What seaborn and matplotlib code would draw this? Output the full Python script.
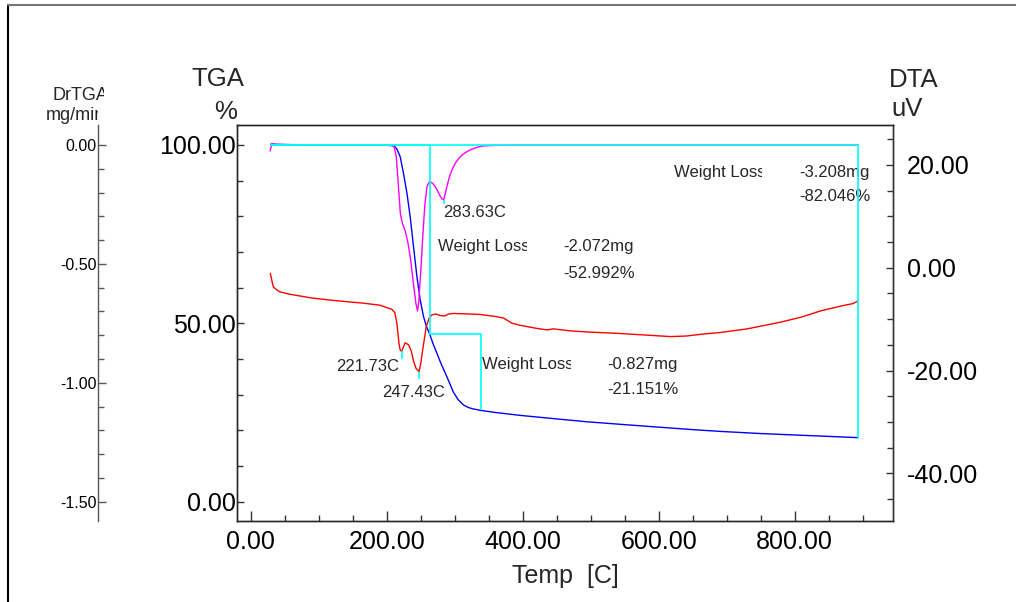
import numpy as np
import pandas as pd
import matplotlib
matplotlib.use("Agg")
import matplotlib.pyplot as plt
from matplotlib.lines import Line2D
from matplotlib.ticker import MultipleLocator, FormatStrFormatter
from matplotlib.transforms import Bbox
import seaborn as sns

# ---------------- data ----------------
# TGA (weight %, left axis)
tga_temp = [29, 60, 100, 150, 200, 208, 212, 215, 219.7, 224.6, 229.6, 234.4, 239.3,
            244.3, 249.2, 254, 258, 263, 268, 273.7, 280, 288.4, 298.2, 305, 312.9,
            320, 327, 333, 338, 360, 396, 450, 494.5, 550, 592.5, 650, 690.7, 750,
            800, 850, 893]
tga_pct = [100.2, 100.1, 100.0, 100.0, 99.9, 99.8, 99.5, 98.8, 96.7, 92.0, 86.5, 79.9, 71.5,
           63.1, 56.5, 51.9, 49.3, 47.0, 44.3, 41.6, 38.6, 35.0, 30.6, 28.6, 27.1,
           26.4, 26.0, 25.8, 25.6, 25.0, 24.2, 23.2, 22.4, 21.6, 21.0, 20.2, 19.7, 19.1,
           18.7, 18.3, 17.95]

# DrTGA (mg/min, far-left axis)
dr_temp = [28.5, 29.5, 31, 35, 60, 100, 150, 200, 208, 211, 214, 217, 220, 223, 227,
           231, 235, 239, 243, 245.2, 247, 250, 253, 256, 259, 262.8, 267, 271.2,
           275, 278.6, 281, 283.63, 286, 288.4, 292, 295.8, 301, 308, 315, 322.4,
           332, 341.9, 360, 400, 500, 600, 700, 800, 893]
dr_val = [-0.025, -0.012, 0.006, 0.003, 0.0, 0.0, 0.0, 0.0, -0.002, -0.008, -0.05, -0.17,
          -0.29, -0.33, -0.36, -0.41, -0.48, -0.58, -0.67, -0.698, -0.66, -0.53, -0.38,
          -0.25, -0.175, -0.154, -0.16, -0.175, -0.195, -0.215, -0.226, -0.23, -0.205,
          -0.175, -0.135, -0.105, -0.075, -0.049, -0.033, -0.021, -0.01, -0.004, -0.001,
          0.0, 0.0, 0.0, 0.0, 0.0, 0.0]

# DTA (uV, right axis)
dta_temp = [28.7, 31, 33, 38, 43, 55, 67.7, 90, 116.7, 140, 165.7, 190, 207.4, 212,
            215, 218, 219.7, 221.73, 224, 227, 232, 236, 239, 243, 247.43, 250, 253,
            258, 262, 266, 272, 278.6, 285, 291, 298, 320, 337.5, 360, 371.7, 384, 396,
            420, 435.6, 445, 470, 494, 543, 580, 617, 640, 666, 690.7, 730, 779, 810,
            838, 870, 885, 893]
dta_uv = [-1.1, -2.5, -3.7, -4.3, -4.7, -5.1, -5.4, -5.9, -6.3, -6.6, -6.9, -7.3, -8.1,
          -8.8, -11.0, -14.8, -16.0, -16.3, -15.6, -14.6, -15.0, -16.2, -18.0, -19.6,
          -20.2, -18.6, -15.8, -11.5, -9.9, -9.2, -9.0, -9.3, -9.4, -9.0, -8.9, -9.0,
          -9.1, -9.5, -9.8, -10.8, -11.2, -11.8, -12.1, -11.9, -12.3, -12.5, -12.8,
          -13.1, -13.4, -13.3, -12.9, -12.6, -11.9, -10.6, -9.6, -8.4, -7.4, -7.0, -6.5]

# weight-loss steps
wl_start = 29
wl_end_1, wl_end_2, wl_end_3 = 263, 338, 893
wl_pct = [-52.992, -21.151, -82.046]
wl_mg = [-2.072, -0.827, -3.208]

# labelled peaks
dta_peaks = [221.73, 247.43]
dta_peak_vals = [-16.3, -20.2]
dr_peak = 283.63
dr_peak_val = -0.23

# ---------------- styling ----------------
sns.set_theme(style="ticks")
plt.rcParams["font.family"] = ["Liberation Sans", "DejaVu Sans"]
plt.rcParams["axes.linewidth"] = 1.0

C_TGA = "#0000FF"
C_DR = "#FF00FF"
C_DTA = "#FF0000"
C_WL = "#00FFFF"
AX_C = "#333333"

fig = plt.figure(figsize=(10.16, 6.02), dpi=100)
W, H = 1016, 602


def fx(px):
    return px / W


def fy(py):
    return 1 - py / H


ax = fig.add_axes([fx(237.2), fy(520.7), (892.7 - 237.2) / W, (520.7 - 125) / H])
ax.set_facecolor("white")
ax2 = ax.twinx()   # DTA
ax3 = ax.twinx()   # DrTGA

# curves
sns.lineplot(x=dta_temp, y=dta_uv, ax=ax2, color=C_DTA, linewidth=1.0)
sns.lineplot(x=dr_temp, y=dr_val, ax=ax3, color=C_DR, linewidth=1.0)
sns.lineplot(x=tga_temp, y=tga_pct, ax=ax, color=C_TGA, linewidth=1.0)

# weight loss step lines (on top)
lvl0 = 100.0
lvl1 = lvl0 + wl_pct[0]
lvl2 = lvl1 + wl_pct[1]
lvl3 = lvl0 + wl_pct[2]
steps = pd.DataFrame({
    "T": [wl_start, wl_end_1, wl_end_1, wl_end_1, wl_end_2, wl_end_2, wl_start, wl_end_3, wl_end_3],
    "W": [lvl0, lvl0, lvl1, lvl1, lvl1, lvl2, lvl0, lvl0, lvl3],
    "g": [1, 1, 1, 2, 2, 2, 3, 3, 3],
})
ax4 = ax.twinx()
ax4.set_ylim(-5.33, 105.6)
ax4.axis("off")
for g, d in steps.groupby("g"):
    sns.lineplot(data=d, x="T", y="W", ax=ax4, color=C_WL, linewidth=1.2,
                 sort=False, estimator=None)

# peak markers
for t, v in zip(dta_peaks, dta_peak_vals):
    ax2.vlines(t, v - 1.4, v, color=C_WL, linewidth=1.2)
ax3.vlines(dr_peak, dr_peak_val - 0.02, dr_peak_val, color=C_WL, linewidth=1.2)

# ---------------- axes ----------------
ax.set_xlim(-20, 944)
ax.set_ylim(-5.33, 105.6)
ax2.set_ylim(-49.22, 27.76)
ax3.set_ylim(-1.580, 0.0841)
ax4.set_xlim(-20, 944)

for a in (ax, ax2, ax3, ax4):
    a.set_xlabel("")
    a.set_ylabel("")
    a.grid(False)

fmt = FormatStrFormatter("%.2f")

ax.xaxis.set_major_locator(MultipleLocator(200))
ax.xaxis.set_minor_locator(MultipleLocator(50))
ax.xaxis.set_major_formatter(fmt)
ax.yaxis.set_major_locator(MultipleLocator(50))
ax.yaxis.set_minor_locator(MultipleLocator(10))
ax.yaxis.set_major_formatter(fmt)
ax.tick_params(axis="x", which="major", direction="in", length=7, width=1, pad=7,
               labelsize=18, colors=AX_C, labelcolor="black", top=False)
ax.tick_params(axis="x", which="minor", direction="in", length=4, width=1,
               colors=AX_C, top=False)
ax.tick_params(axis="y", which="major", direction="in", length=5, width=1, pad=1,
               labelsize=18, colors=AX_C, labelcolor="black", right=False)
ax.tick_params(axis="y", which="minor", direction="in", length=4, width=1,
               colors=AX_C, right=False)
for s in ax.spines.values():
    s.set_color(AX_C)
    s.set_visible(True)

ax2.yaxis.set_major_locator(MultipleLocator(20))
ax2.yaxis.set_minor_locator(MultipleLocator(5))
ax2.yaxis.set_major_formatter(fmt)
ax2.tick_params(axis="y", which="major", direction="in", length=5, width=1, pad=10,
                labelsize=18, colors=AX_C, labelcolor="black")
ax2.tick_params(axis="y", which="minor", direction="in", length=4, width=1, colors=AX_C)
ax2.spines["right"].set_color(AX_C)

ax3.spines["left"].set_position(("axes", (97.7 - 237.2) / (892.7 - 237.2)))
ax3.spines["left"].set_visible(True)
ax3.spines["left"].set_color("#555555")
for k in ("right", "top", "bottom"):
    ax3.spines[k].set_visible(False)
ax3.yaxis.set_ticks_position("left")
ax3.yaxis.set_label_position("left")
ax3.yaxis.set_major_locator(MultipleLocator(0.5))
ax3.yaxis.set_minor_locator(MultipleLocator(0.1))
ax3.yaxis.set_major_formatter(fmt)
ax3.tick_params(axis="y", which="major", direction="in", length=6, width=1, pad=1,
                labelsize=11.5, colors="#555555", labelcolor="black")
ax3.tick_params(axis="y", which="minor", direction="in", length=4, width=1, colors="#555555")

ax.set_xlabel("Temp  [C]", fontsize=18, labelpad=7)

# axis titles
fig.text(fx(217.5), fy(79.3), "TGA", fontsize=18.5, ha="center", va="center")
fig.text(fx(225.8), fy(111.7), "%", fontsize=18.5, ha="center", va="center")
fig.text(fx(913.3), fy(80), "DTA", fontsize=18.5, ha="center", va="center")
fig.text(fx(907.5), fy(109.3), "uV", fontsize=18.5, ha="center", va="center")


def clipped(t, right_px):
    t.set_clip_on(True)
    t.set_clip_box(Bbox.from_extents(0, 0, right_px, H))


clipped(fig.text(fx(53), fy(96), "DrTGA", fontsize=13, ha="left", va="center"), 104)
clipped(fig.text(fx(45.7), fy(115), "mg/min", fontsize=13, ha="left", va="center"), 98.3)

# annotations (temperature, weight %)
ANN = 12
ax.text(283, 81.2, f"{dr_peak:.2f}C", fontsize=ANN, ha="left", va="center")
ax.text(125.5, 37.8, f"{dta_peaks[0]:.2f}C", fontsize=ANN, ha="left", va="center")
ax.text(193.7, 30.6, f"{dta_peaks[1]:.2f}C", fontsize=ANN, ha="left", va="center")

wl_text = [(275.6, 71.4, 459.1, 64.0, 527.3),
           (340.0, 38.5, 523.9, 31.5, 571.0),
           (622.0, 92.4, 805.9, 85.5, 762.0)]
for (tx, ty, vx, vy, clip_px), mg, pc in zip(wl_text, wl_mg, wl_pct):
    t = ax.text(tx, ty, "Weight Loss", fontsize=ANN, ha="left", va="center")
    clipped(t, clip_px)
    ax.text(vx, ty, f"{mg:.3f}mg", fontsize=ANN, ha="left", va="center")
    ax.text(vx, vy, f"{pc:.3f}%", fontsize=ANN, ha="left", va="center")

# page frame
fig.add_artist(Line2D([fx(8), fx(8)], [0, fy(4.7)], color="black", linewidth=1.5))
fig.add_artist(Line2D([fx(8), 1], [fy(4.7), fy(4.7)], color="#777777", linewidth=1.5))

fig.savefig("out.png", dpi=100, facecolor="white")
